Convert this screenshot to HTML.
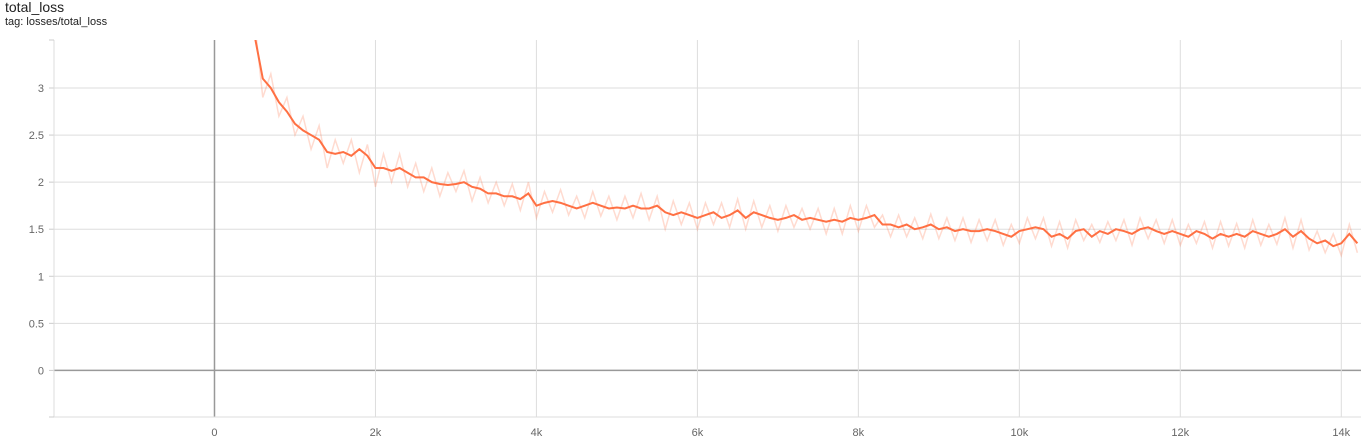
<!DOCTYPE html>
<html><head><meta charset="utf-8"><style>
body{margin:0;background:#fff;font-family:"Liberation Sans",sans-serif;width:1361px;height:440px;overflow:hidden;position:relative}
#t{position:absolute;left:5px;top:-1px;font-size:14px;color:#212121}
#s{position:absolute;left:5px;top:16px;font-size:11px;color:#212121}
svg{position:absolute;left:0;top:0}
</style></head><body>
<div id="t">total_loss</div>
<div id="s">tag: losses/total_loss</div>
<svg id="c" width="1361" height="440"></svg>
<script>
const steps=[];for(let s=500;s<=14200;s+=100)steps.push(s);
const smoothed=[3.55,3.1,3.0,2.85,2.75,2.62,2.55,2.5,2.45,2.32,2.3,2.32,2.28,2.35,2.28,2.15,2.15,2.12,2.15,2.1,2.05,2.05,2.0,1.98,1.97,1.98,2.0,1.95,1.93,1.88,1.88,1.85,1.85,1.82,1.88,1.75,1.78,1.8,1.78,1.75,1.72,1.75,1.78,1.75,1.72,1.73,1.72,1.75,1.72,1.72,1.75,1.68,1.65,1.68,1.65,1.62,1.65,1.68,1.62,1.65,1.7,1.62,1.68,1.65,1.62,1.6,1.62,1.65,1.6,1.62,1.6,1.58,1.6,1.58,1.62,1.6,1.62,1.65,1.55,1.55,1.52,1.55,1.5,1.52,1.55,1.5,1.52,1.48,1.5,1.48,1.48,1.5,1.48,1.45,1.42,1.48,1.5,1.52,1.5,1.42,1.45,1.4,1.48,1.5,1.42,1.48,1.45,1.5,1.48,1.45,1.5,1.52,1.48,1.45,1.48,1.45,1.42,1.48,1.45,1.4,1.45,1.42,1.45,1.42,1.48,1.45,1.42,1.45,1.5,1.42,1.48,1.4,1.35,1.38,1.32,1.35,1.45,1.35];
const raw=[3.7,2.9,3.15,2.7,2.9,2.5,2.7,2.35,2.6,2.15,2.45,2.2,2.45,2.1,2.4,1.95,2.3,2.0,2.3,1.95,2.2,1.9,2.15,1.85,2.1,1.9,2.12,1.8,2.05,1.78,2.0,1.75,1.98,1.7,2.0,1.62,1.9,1.68,1.92,1.65,1.85,1.62,1.9,1.64,1.85,1.6,1.85,1.62,1.88,1.6,1.85,1.5,1.8,1.55,1.78,1.5,1.78,1.55,1.78,1.52,1.82,1.5,1.8,1.52,1.75,1.48,1.75,1.52,1.72,1.5,1.72,1.45,1.72,1.45,1.75,1.48,1.75,1.52,1.65,1.42,1.65,1.42,1.62,1.4,1.66,1.4,1.62,1.38,1.62,1.36,1.6,1.38,1.6,1.33,1.55,1.35,1.62,1.4,1.62,1.32,1.58,1.3,1.6,1.38,1.55,1.36,1.58,1.38,1.6,1.33,1.62,1.4,1.6,1.35,1.6,1.33,1.55,1.35,1.58,1.3,1.58,1.32,1.56,1.3,1.6,1.33,1.55,1.34,1.62,1.3,1.6,1.28,1.48,1.25,1.45,1.22,1.55,1.25];
const yTicks=[0,0.5,1,1.5,2,2.5,3];
const xTicks=[0,2000,4000,6000,8000,10000,12000,14000];
const xLabels=["0","2k","4k","6k","8k","10k","12k","14k"];
const L=54,R=1361,T=40,B=417,x0=-1994,x1=14245,y0=-0.495,y1=3.51;
const X=v=>L+(v-x0)/(x1-x0)*(R-L), Y=v=>B-(v-y0)/(y1-y0)*(B-T);
const svg=document.getElementById('c'),NS='http://www.w3.org/2000/svg';
function el(tag,a){const e=document.createElementNS(NS,tag);for(const k in a)e.setAttribute(k,a[k]);svg.appendChild(e);return e;}
const cp=el('clipPath',{id:'clip'});const r=document.createElementNS(NS,'rect');r.setAttribute('x',L);r.setAttribute('y',T);r.setAttribute('width',R-L);r.setAttribute('height',B-T);cp.appendChild(r);
yTicks.forEach(v=>{const y=Y(v);
 const g=el('line',{x1:L,x2:R,y1:y,y2:y,stroke:v===0?'#999':'#ddd','stroke-width':v===0?1.5:1});
 
 el('line',{x1:L-5,x2:L,y1:y,y2:y,stroke:'#ccc'});
 const t=el('text',{x:L-10,y:y+4,'text-anchor':'end','font-size':11,fill:'#666','font-family':'Liberation Sans, sans-serif'});t.textContent=v;
 });
xTicks.forEach((v,i)=>{const x=X(v);
 const g=el('line',{x1:x,x2:x,y1:T,y2:B,stroke:v===0?'#999':'#ddd','stroke-width':v===0?1.5:1});
 
 const t=el('text',{x:x,y:B+19,'text-anchor':'middle','font-size':11,fill:'#666','font-family':'Liberation Sans, sans-serif'});t.textContent=xLabels[i];
 });
el('line',{x1:L,x2:L,y1:T,y2:B,stroke:'#ddd'});el('line',{x1:L,x2:R,y1:B,y2:B,stroke:'#ddd'});
el('line',{x1:L-5,x2:L,y1:T,y2:T,stroke:'#ccc'});el('line',{x1:L-5,x2:L,y1:B,y2:B,stroke:'#ccc'});
const pr=el('polyline',{points:steps.map((s,i)=>X(s)+','+Y(raw[i])).join(' '),fill:'none',stroke:'#ff7043','stroke-opacity':0.25,'stroke-width':1.5,'clip-path':'url(#clip)'});

const ps=el('polyline',{points:steps.map((s,i)=>X(s)+','+Y(smoothed[i])).join(' '),fill:'none',stroke:'#ff7043','stroke-width':2,'clip-path':'url(#clip)'});

</script></body></html>
